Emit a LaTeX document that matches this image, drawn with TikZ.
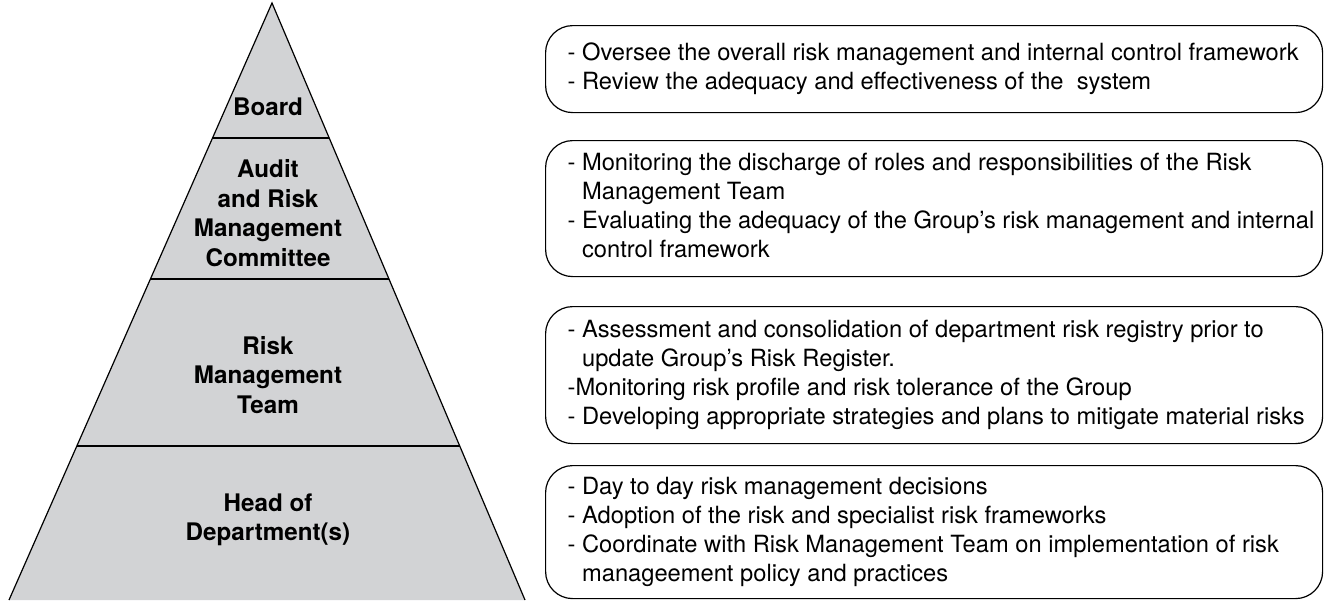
\documentclass[tikz,border=0pt]{standalone}
\usepackage{fontspec}
\setmainfont{TeX Gyre Heros}
\definecolor{tierfill}{RGB}{210,211,213}
% hanging indent for wrapped bullet lines
\newcommand{\wrapin}{\hphantom{- }}
% one box of duties: fixed left margin, lines broken by hand
\newcommand{\duties}[1]{\begin{tabular}{@{\hspace{22pt}}p{755pt}@{}}#1\end{tabular}}
\tikzset{
  tier/.style={font=\fontsize{24.2}{29.5}\selectfont\bfseries, align=center},
  duty/.style={draw, line width=1.2, rounded corners=27, anchor=north west,
    inner sep=0, font=\fontsize{23.7}{29}\selectfont},
}
\begin{document}
\begin{tikzpicture}[x=1pt,y=-1pt]
\useasboundingbox (0,0) rectangle (1324,600);

% the pyramid
\coordinate (apex) at (272,3);
\coordinate (bl) at (9,600);
\coordinate (br) at (525,600);
\fill[tierfill] (apex) -- (bl) -- (br) -- cycle;
\begin{scope}
  \clip (apex) -- (bl) -- (br) -- cycle;
  \foreach \y in {138,279,446}
    \draw[line width=1.2] (0,\y) -- (600,\y);
\end{scope}
\draw[line width=1.2] (bl) -- (apex) -- (br);

\node[tier] (board) at (268,106.5) {Board};
\node[tier] (arc) at (268,213) {Audit\\and Risk\\Management\\Committee};
\node[tier] (rmt) at (268,375) {Risk\\Management\\Team};
\node[tier] (hod) at (268,520) {Head of\\Department(s)};

% responsibilities
\node[duty, minimum height=87] (boarddo) at (545,25) {\duties{
  - Oversee the overall risk management and internal control framework\\
  - Review the adequacy and effectiveness of the \ system}};
\node[duty, minimum height=136] (arcdo) at (545,140) {\duties{
  - Monitoring the discharge of roles and responsibilities of the Risk\\
  \wrapin Management Team\\
  - Evaluating the adequacy of the Group’s risk management and internal\\
  \wrapin control framework}};
\node[duty, minimum height=137] (rmtdo) at (545,306) {\duties{
  - Assessment and consolidation of department risk registry prior to\\
  \wrapin update Group’s Risk Register.\\
  -Monitoring risk profile and risk tolerance of the Group\\
  - Developing appropriate strategies and plans to mitigate material risks}};
\node[duty, minimum height=133] (hoddo) at (545,465) {\duties{
  - Day to day risk management decisions\\
  - Adoption of the risk and specialist risk frameworks\\
  - Coordinate with Risk Management Team on implementation of risk\\
  \wrapin manageement policy and practices}};
\end{tikzpicture}
\end{document}
